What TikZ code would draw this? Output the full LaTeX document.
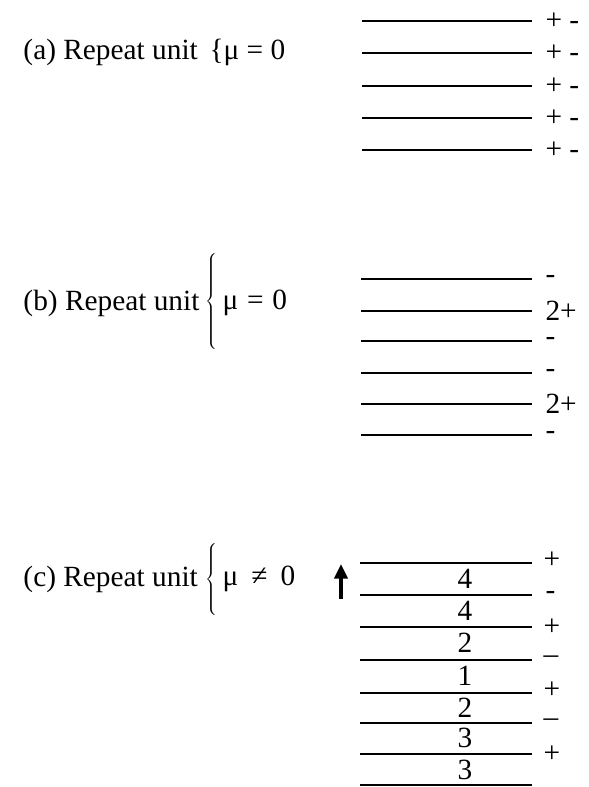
\documentclass[tikz,border=0pt]{standalone}
\usepackage{fontspec}
\setmainfont{Liberation Serif}
\usetikzlibrary{arrows.meta}
\tikzset{every picture/.style={line width=0.75pt}}
\begin{document}
\begin{tikzpicture}[x=0.75pt,y=0.75pt,yscale=-1,xscale=1,font=\fontsize{22}{26}\selectfont]
\useasboundingbox (0,0) rectangle (588,787);

%Straight Lines (a)
\draw [line width=1.8]  (362,21) -- (532,21) ;
\draw [line width=1.8]  (362,53) -- (532,53) ;
\draw [line width=1.8]  (362,86) -- (532,86) ;
\draw [line width=1.8]  (362,118) -- (532,118) ;
\draw [line width=1.8]  (362,150) -- (532,150) ;

%Straight Lines (b)
\draw [line width=1.8]  (361,279) -- (532,279) ;
\draw [line width=1.8]  (361,311) -- (532,311) ;
\draw [line width=1.8]  (361,341) -- (532,341) ;
\draw [line width=1.8]  (361,373) -- (532,373) ;
\draw [line width=1.8]  (361,404) -- (532,404) ;
\draw [line width=1.8]  (361,435) -- (532,435) ;

%Straight Lines (c)
\draw [line width=1.8]  (360,563) -- (532,563) ;
\draw [line width=1.8]  (360,595) -- (532,595) ;
\draw [line width=1.8]  (360,627) -- (532,627) ;
\draw [line width=1.8]  (360,660) -- (532,660) ;
\draw [line width=1.8]  (360,693) -- (532,693) ;
\draw [line width=1.8]  (360,723) -- (532,723) ;
\draw [line width=1.8]  (360,754) -- (532,754) ;
\draw [line width=1.8]  (360,785) -- (532,785) ;

% Text Node
\draw (22,52) node [anchor=west][inner sep=0.75pt] (unitA) {(a) Repeat unit};
% Text Node
\draw (208,52) node [anchor=west][inner sep=0.75pt] (muA) {\{μ = 0};
% Text Node
\draw (22,303) node [anchor=west][inner sep=0.75pt] (unitB) {(b) Repeat unit};
% Text Node
\draw (212,302) node [inner sep=0pt] (braceB) {$\left\{\vrule height 31pt depth 31pt width 0pt\right.$};
% Text Node
\draw (221,303) node [anchor=west][inner sep=0.75pt] (muB) {μ\hspace{0.3em}=\hspace{0.3em}0};
% Text Node
\draw (22,579) node [anchor=west][inner sep=0.75pt] (unitC) {(c) Repeat unit};
% Text Node
\draw (212,580) node [inner sep=0pt] (braceC) {$\left\{\vrule height 23pt depth 23pt width 0pt\right.$};
% Text Node
\draw (221,579) node [anchor=west][inner sep=0.75pt] (muC) {μ\hspace{0.45em}≠\hspace{0.45em}0};

%Straight Lines [arrow]
\coordinate (arrS) at (341,599);
\coordinate (arrE) at (341,564);
\draw [line width=2.4, -{Triangle[width=10pt,length=11pt]}] (arrS) -- (arrE) ;

% Text Node
\draw (544,21) node [anchor=west][inner sep=0.75pt] (chgA1) {+ -};
\draw (544,53) node [anchor=west][inner sep=0.75pt] (chgA2) {+ -};
\draw (544,86) node [anchor=west][inner sep=0.75pt] (chgA3) {+ -};
\draw (544,118) node [anchor=west][inner sep=0.75pt] (chgA4) {+ -};
\draw (544,150) node [anchor=west][inner sep=0.75pt] (chgA5) {+ -};

% Text Node
\draw (544,279) node [anchor=west][inner sep=0.75pt] (chgB1) {-};
\draw (544,311) node [anchor=west][inner sep=0.75pt] (chgB2) {2+};
\draw (544,341) node [anchor=west][inner sep=0.75pt] (chgB3) {-};
\draw (544,373) node [anchor=west][inner sep=0.75pt] (chgB4) {-};
\draw (544,404) node [anchor=west][inner sep=0.75pt] (chgB5) {2+};
\draw (544,435) node [anchor=west][inner sep=0.75pt] (chgB6) {-};

% Text Node
\draw (542,560) node [anchor=west][inner sep=0.75pt] (chgC1) {+};
\draw (544,595) node [anchor=west][inner sep=0.75pt] (chgC2) {-};
\draw (542,627) node [anchor=west][inner sep=0.75pt] (chgC3) {+};
\draw (542,660) node [anchor=west][inner sep=0.75pt] (chgC4) {–};
\draw (542,690) node [anchor=west][inner sep=0.75pt] (chgC5) {+};
\draw (542,723) node [anchor=west][inner sep=0.75pt] (chgC6) {–};
\draw (542,754) node [anchor=west][inner sep=0.75pt] (chgC7) {+};

% Text Node
\draw (465,579) node [inner sep=0pt] (layC1) {4};
\draw (465,611) node [inner sep=0pt] (layC2) {4};
\draw (465,643) node [inner sep=0pt] (layC3) {2};
\draw (465,676) node [inner sep=0pt] (layC4) {1};
\draw (465,708) node [inner sep=0pt] (layC5) {2};
\draw (465,738) node [inner sep=0pt] (layC6) {3};
\draw (465,770) node [inner sep=0pt] (layC7) {3};

\end{tikzpicture}
\end{document}
